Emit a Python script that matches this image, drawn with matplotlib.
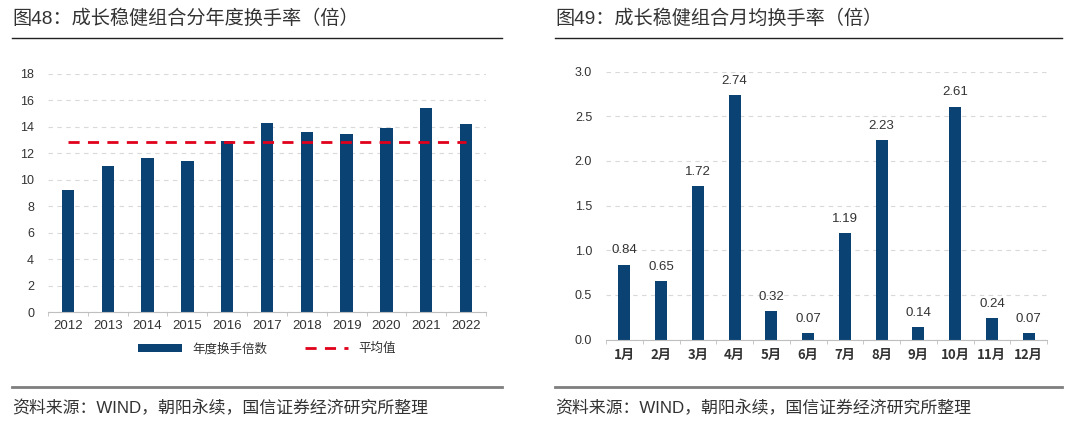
import matplotlib
matplotlib.use("Agg")
import matplotlib.pyplot as plt
from matplotlib.lines import Line2D
import numpy as np

plt.rcParams["font.family"] = ["Noto Sans CJK SC", "DejaVu Sans"]

# annual turnover (left panel)
years = ["2012", "2013", "2014", "2015", "2016", "2017", "2018", "2019", "2020", "2021", "2022"]
annual_turnover = [9.24, 11.06, 11.64, 11.41, 12.95, 14.26, 13.65, 13.48, 13.90, 15.42, 14.23]

# monthly average turnover (right panel)
months = ["1月", "2月", "3月", "4月", "5月", "6月", "7月", "8月", "9月", "10月", "11月", "12月"]
monthly_turnover = [0.84, 0.65, 1.72, 2.74, 0.32, 0.07, 1.19, 2.23, 0.14, 2.61, 0.24, 0.07]

BAR = "#0a4273"
RED = "#e0001b"
TXT = "#333333"
GRID = "#d9d9d9"
LATIN = ["Liberation Sans", "Noto Sans CJK SC", "DejaVu Sans"]
W, H = 1080, 440


def style_axis(ax, n):
    for s in ["top", "right", "left"]:
        ax.spines[s].set_visible(False)
    ax.spines["bottom"].set_color("#bfbfbf")
    ax.yaxis.grid(True, linestyle=(0, (4, 4)), color=GRID, linewidth=0.8)
    ax.set_axisbelow(True)
    ax.tick_params(axis="y", length=0, labelsize=9, colors=TXT, pad=10)
    ax.tick_params(axis="x", which="major", length=0, labelsize=9.5, colors=TXT, pad=6)
    ax.set_xticks(np.arange(n + 1) - 0.5, minor=True)
    ax.tick_params(axis="x", which="minor", length=3, color="#bfbfbf", direction="out")
    ax.set_xlim(-0.5, n - 0.5)


fig = plt.figure(figsize=(W / 100, H / 100), dpi=100)

# left panel
ax1 = fig.add_axes([48 / W, 1 - 312 / H, (486 - 48) / W, (312 - 74) / H])
x1 = np.arange(len(years))
bar_h = ax1.bar(x1, annual_turnover, width=0.31, color=BAR, label="年度换手倍数", zorder=2)
avg = np.mean(annual_turnover)
line_h, = ax1.plot([x1[0], x1[-1]], [avg, avg], color=RED, linestyle=(0, (4, 3)), linewidth=2,
                   label="平均值", zorder=3)
ax1.set_ylim(0, 18)
ax1.set_yticks(range(0, 19, 2))
ax1.set_xticks(x1)
ax1.set_xticklabels(years)
style_axis(ax1, len(years))
ax1.legend(handles=[bar_h, line_h], loc="center", bbox_to_anchor=(0.5, -0.155), ncol=2,
           frameon=False, fontsize=9, handlelength=3.5, handleheight=0.5,
           columnspacing=3, labelcolor=TXT)

# right panel
ax2 = fig.add_axes([606 / W, 1 - 339.5 / H, (1047 - 606) / W, (339.5 - 71.7) / H])
x2 = np.arange(len(months))
ax2.bar(x2, monthly_turnover, width=0.32, color=BAR, zorder=2)
for xi, v in zip(x2, monthly_turnover):
    ax2.annotate(f"{v:.2f}", (xi, v), xytext=(0, 6), textcoords="offset points",
                 ha="center", va="bottom", fontsize=9.5, color=TXT, family=LATIN)
ax2.set_ylim(0, 3.0)
ax2.set_yticks(np.arange(0, 3.01, 0.5))
ax2.set_yticklabels([f"{t:.1f}" for t in np.arange(0, 3.01, 0.5)])
ax2.set_xticks(x2)
ax2.set_xticklabels(months, fontweight="bold")
style_axis(ax2, len(months))

for lab in ax1.get_yticklabels() + ax1.get_xticklabels() + ax2.get_yticklabels():
    lab.set_family(LATIN)

# titles, rules and source notes
for x0, x_end, title in [(12, 502, "图48：成长稳健组合分年度换手率（倍）"),
                         (555, 1062, "图49：成长稳健组合月均换手率（倍）")]:
    fig.text(x0 / W, 1 - 19 / H, title, fontsize=13.8, color=TXT, va="center", ha="left",
             family=LATIN)
    fig.add_artist(Line2D([x0 / W, x_end / W], [1 - 38 / H] * 2, color="#222222", linewidth=1))
    fig.add_artist(Line2D([x0 / W, x_end / W], [1 - 387 / H] * 2, color="#7f7f7f", linewidth=2))
    fig.text(x0 / W, 1 - 408 / H, "资料来源：WIND，朝阳永续，国信证券经济研究所整理",
             fontsize=12.2, color=TXT, va="center", ha="left", family=LATIN)

fig.savefig("out.png", dpi=100)
